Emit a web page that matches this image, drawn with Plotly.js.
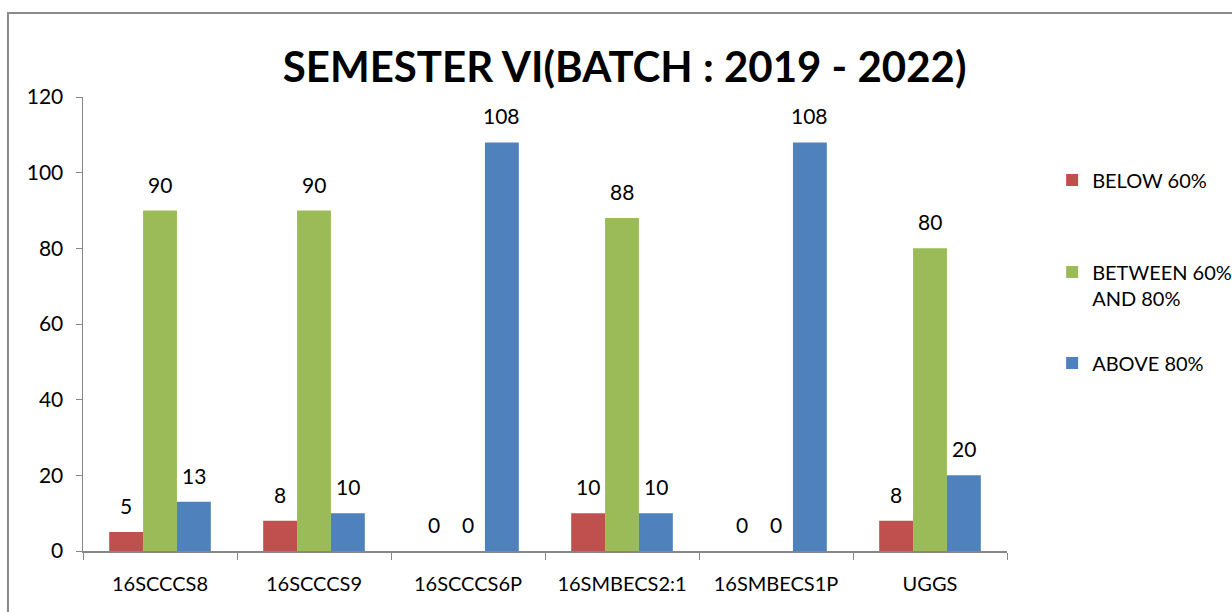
<!DOCTYPE html>
<html>
<head>
<meta charset="utf-8">
<script src="https://cdn.plot.ly/plotly-3.0.1.min.js"></script>
<style>html,body{margin:0;padding:0;background:#fff;}#chart{width:1232px;height:612px;}</style>
</head>
<body>
<div id="chart"></div>
<script>
const categories = ["16SCCCS8", "16SCCCS9", "16SCCCS6P", "16SMBECS2:1", "16SMBECS1P", "UGGS"];
const below60 = [5, 8, 0, 10, 0, 8];
const between60and80 = [90, 90, 0, 88, 0, 80];
const above80 = [13, 10, 108, 10, 108, 20];
const seriesNames = ["BELOW 60%", "BETWEEN 60%<br>AND 80%", "ABOVE 80%"];
const yTicks = [0, 20, 40, 60, 80, 100, 120];

const FONT = "Lato, 'Open Sans', sans-serif";
const colors = ["#C0504D", "#9BBB59", "#4F81BD"];
const series = [below60, between60and80, above80];
const legends = ["legend", "legend2", "legend3"];
const BARGAP = 0.34;
const barW = (1 - BARGAP) / series.length;

const traces = series.map((vals, i) => ({
  type: "bar",
  x: categories,
  y: vals,
  name: seriesNames[i],
  legend: legends[i],
  marker: {color: colors[i]},
  hoverinfo: "x+y+name"
}));

// data labels placed via the axes, above each bar
const annotations = [];
series.forEach((vals, i) => {
  const off = (i - (series.length - 1) / 2) * barW;
  vals.forEach((v, j) => {
    annotations.push({
      xref: "x", yref: "y",
      x: j + off, y: v,
      text: String(v),
      showarrow: false,
      xanchor: "center", yanchor: "bottom",
      yshift: 12,
      font: {family: FONT, size: 21, color: "#000"}
    });
  });
});

const legendBase = {
  xref: "container", yref: "container",
  xanchor: "left", yanchor: "middle",
  font: {family: FONT, size: 20, color: "#000"},
  bgcolor: "rgba(0,0,0,0)",
  itemwidth: 30,
  valign: "top"
};

const layout = {
  width: 1232, height: 612,
  margin: {l: 83, r: 225, t: 97, b: 61, autoexpand: false},
  paper_bgcolor: "#fff", plot_bgcolor: "#fff",
  font: {family: FONT, color: "#000"},
  title: {
    text: "<b>SEMESTER VI(BATCH : 2019 - 2022)</b>",
    font: {family: FONT, size: 42, color: "#000"},
    xref: "container", yref: "container",
    x: 0.507, xanchor: "center",
    y: 0.89, yanchor: "middle"
  },
  barmode: "group",
  bargap: BARGAP,
  bargroupgap: 0,
  showlegend: true,
  legend: Object.assign({}, legendBase, {x: 0.854, y: 1 - 180 / 612}),
  legend2: Object.assign({}, legendBase, {x: 0.854, y: 1 - 285 / 612}),
  legend3: Object.assign({}, legendBase, {x: 0.854, y: 1 - 363 / 612}),
  xaxis: {
    type: "category",
    showline: true, linecolor: "#868686", linewidth: 1.5,
    ticks: "outside", tickson: "boundaries", ticklen: 7, tickcolor: "#868686",
    ticklabelstandoff: 14,
    tickfont: {family: FONT, size: 20, color: "#000"},
    showgrid: false, zeroline: false
  },
  yaxis: {
    range: [0, 120],
    tickvals: yTicks,
    ticktext: yTicks.map(String),
    showline: true, linecolor: "#868686", linewidth: 1.5,
    ticks: "outside", ticklen: 6, tickcolor: "#868686",
    ticklabelstandoff: 8,
    tickfont: {family: FONT, size: 21, color: "#000"},
    showgrid: false, zeroline: false
  },
  annotations: annotations,
  shapes: [{
    type: "rect", xref: "paper", yref: "paper",
    x0: -0.0812, x1: 2, y0: -1, y1: 1.185,
    line: {color: "#8a8a8a", width: 2}, fillcolor: "rgba(0,0,0,0)", layer: "below"
  }]
};

Plotly.newPlot("chart", traces, layout, {staticPlot: true, displayModeBar: false});
</script>
</body>
</html>
